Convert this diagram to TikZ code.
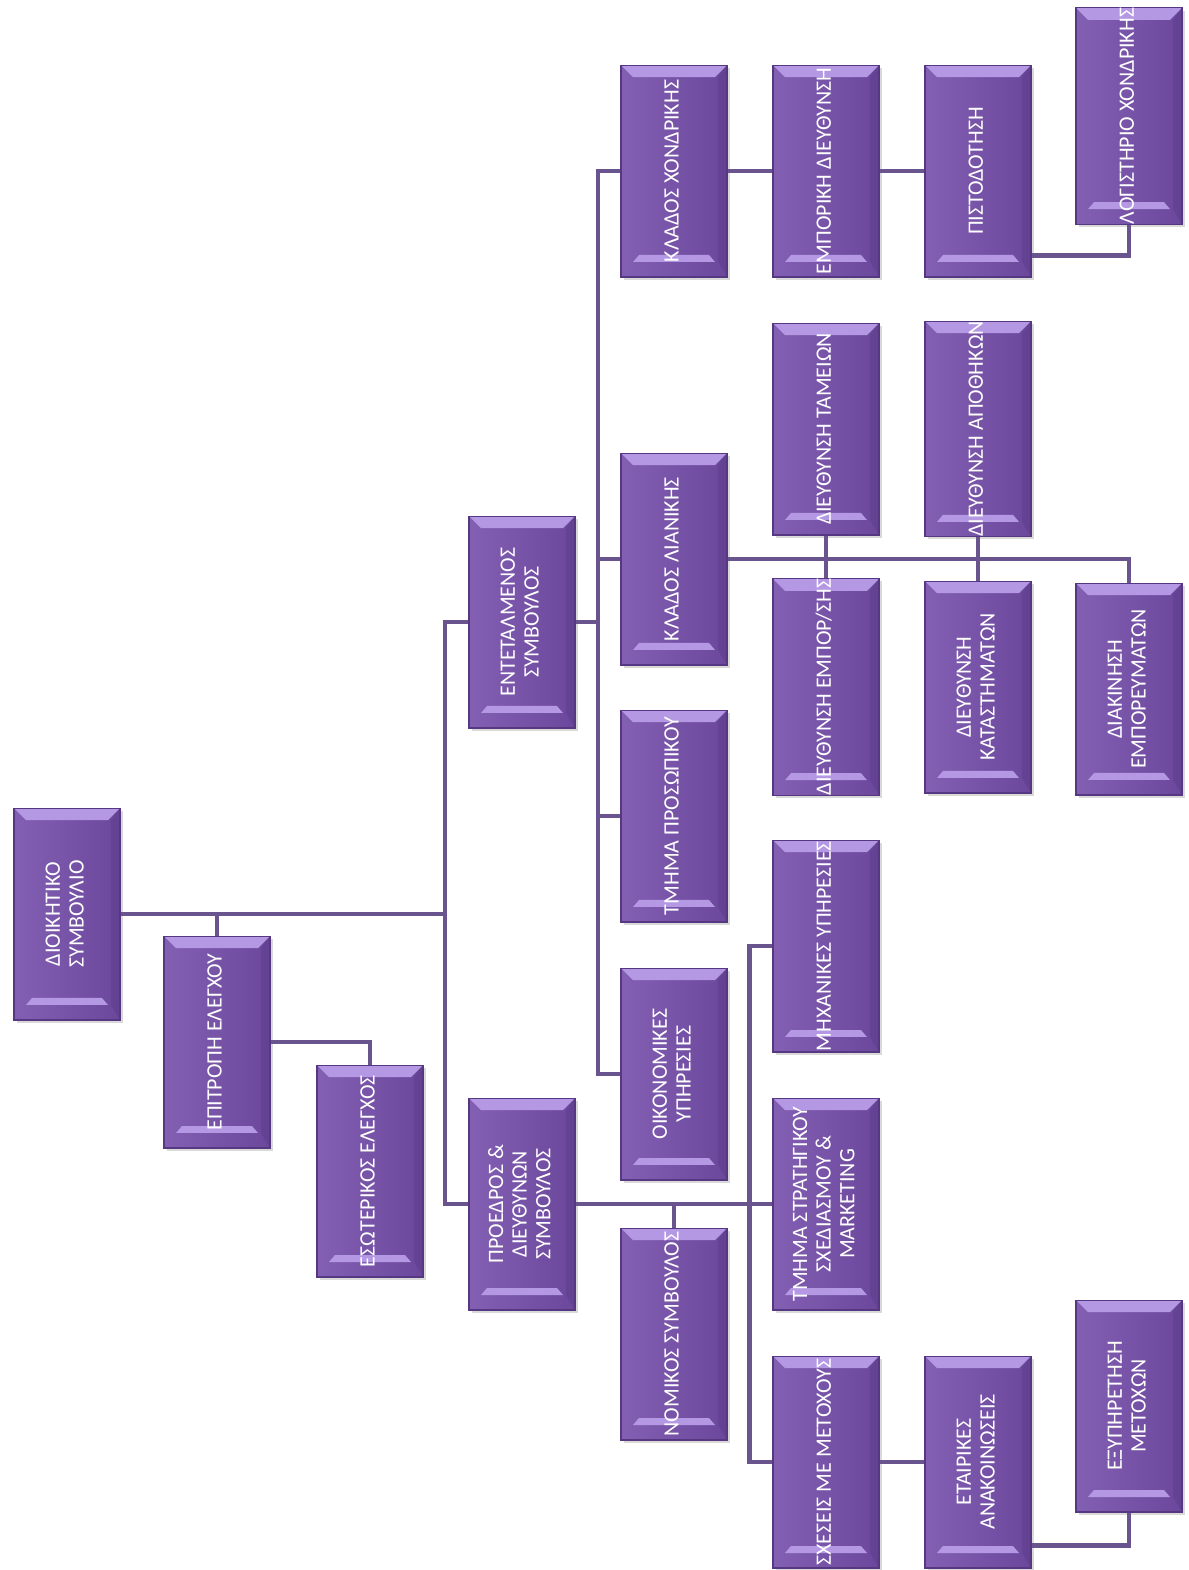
\documentclass[tikz,border=0pt]{standalone}
\usepackage{fontspec}
\setmainfont{Carlito}
\usepackage{graphicx,xcolor}
\definecolor{orgfill}{RGB}{117,78,170}
\definecolor{orgedge}{RGB}{85,55,130}
\definecolor{orglight}{RGB}{180,152,228}
\definecolor{orgline}{RGB}{106,84,142}
\usetikzlibrary{calc,shadows}
\newcommand{\vlabel}[1]{\rotatebox{90}{\begin{tabular}{@{}c@{}}#1\end{tabular}}}

\begin{document}
\begin{tikzpicture}[x=0.02cm,y=-0.02cm,
  orgbox/.style={draw=orgedge,line width=0.6pt,left color=orgfill!90!white,right color=orgfill!92!black,
    minimum width=2.12cm,minimum height=4.24cm,inner sep=0pt,text=white,
    font=\fontsize{12.5}{13.5}\selectfont,
    drop shadow={opacity=0.3,shadow xshift=1.5pt,shadow yshift=-1.5pt},
    path picture={
      \fill[orglight] (path picture bounding box.north west) -- (path picture bounding box.north east)
        -- ([shift={(-0.24cm,-0.24cm)}]path picture bounding box.north east)
        -- ([shift={(0.24cm,-0.24cm)}]path picture bounding box.north west) -- cycle;
      \fill[orglight] ([shift={(0.36cm,0.44cm)}]path picture bounding box.south west)
        -- ([shift={(-0.36cm,0.44cm)}]path picture bounding box.south east)
        -- ([shift={(-0.24cm,0.3cm)}]path picture bounding box.south east)
        -- ([shift={(0.24cm,0.3cm)}]path picture bounding box.south west) -- cycle;
      \fill[orgedge,opacity=0.35] (path picture bounding box.north east) -- (path picture bounding box.south east)
        -- ([shift={(-0.18cm,0.3cm)}]path picture bounding box.south east)
        -- ([shift={(-0.18cm,-0.24cm)}]path picture bounding box.north east) -- cycle;
    }},
  link/.style={orgline,line width=2.5pt}]
  \useasboundingbox (0,0) rectangle (1188,1570);

  % Board and audit
  \node[orgbox] (dioik) at (67,914) {\vlabel{ΔΙΟΙΚΗΤΙΚΟ\\ΣΥΜΒΟΥΛΙΟ}};
  \node[orgbox] (epitr) at (217,1042) {\vlabel{ΕΠΙΤΡΟΠΗ ΕΛΕΓΧΟΥ}};
  \node[orgbox] (esot) at (370,1171) {\vlabel{ΕΣΩΤΕΡΙΚΟΣ ΕΛΕΓΧΟΣ}};
  % Management
  \node[orgbox] (entet) at (522,622) {\vlabel{ΕΝΤΕΤΑΛΜΕΝΟΣ\\ΣΥΜΒΟΥΛΟΣ}};
  \node[orgbox] (proed) at (522,1204) {\vlabel{ΠΡΟΕΔΡΟΣ \&\\ΔΙΕΥΘΥΝΩΝ\\ΣΥΜΒΟΥΛΟΣ}};
  % Branches and departments
  \node[orgbox] (xondr) at (674,171) {\vlabel{ΚΛΑΔΟΣ ΧΟΝΔΡΙΚΗΣ}};
  \node[orgbox] (lian) at (674,559) {\vlabel{ΚΛΑΔΟΣ ΛΙΑΝΙΚΗΣ}};
  \node[orgbox] (prosop) at (674,816) {\vlabel{ΤΜΗΜΑ ΠΡΟΣΩΠΙΚΟΥ}};
  \node[orgbox] (oikon) at (674,1074) {\vlabel{ΟΙΚΟΝΟΜΙΚΕΣ\\ΥΠΗΡΕΣΙΕΣ}};
  \node[orgbox] (nomik) at (674,1334) {\vlabel{ΝΟΜΙΚΟΣ ΣΥΜΒΟΥΛΟΣ}};
  \node[orgbox] (empdir) at (826,171) {\vlabel{ΕΜΠΟΡΙΚΗ ΔΙΕΥΘΥΝΣΗ}};
  \node[orgbox] (tamei) at (826,429) {\vlabel{ΔΙΕΥΘΥΝΣΗ ΤΑΜΕΙΩΝ}};
  \node[orgbox] (empor) at (826,687) {\vlabel{ΔΙΕΥΘΥΝΣΗ ΕΜΠΟΡ/ΣΗΣ}};
  \node[orgbox] (mixan) at (826,946) {\vlabel{ΜΗΧΑΝΙΚΕΣ ΥΠΗΡΕΣΙΕΣ}};
  \node[orgbox] (strat) at (826,1204) {\vlabel{ΤΜΗΜΑ ΣΤΡΑΤΗΓΙΚΟΥ\\ΣΧΕΔΙΑΣΜΟΥ \&\\MARKETING}};
  \node[orgbox] (sxes) at (826,1462) {\vlabel{ΣΧΕΣΕΙΣ ΜΕ ΜΕΤΟΧΟΥΣ}};
  \node[orgbox] (pisto) at (978,171) {\vlabel{ΠΙΣΤΟΔΟΤΗΣΗ}};
  \node[orgbox] (apoth) at (978,429) {\vlabel{ΔΙΕΥΘΥΝΣΗ ΑΠΟΘΗΚΩΝ}};
  \node[orgbox] (katast) at (978,687) {\vlabel{ΔΙΕΥΘΥΝΣΗ\\ΚΑΤΑΣΤΗΜΑΤΩΝ}};
  \node[orgbox] (etair) at (978,1462) {\vlabel{ΕΤΑΙΡΙΚΕΣ\\ΑΝΑΚΟΙΝΩΣΕΙΣ}};
  \node[orgbox] (logist) at (1129,116) {\vlabel{ΛΟΓΙΣΤΗΡΙΟ ΧΟΝΔΡΙΚΗΣ}};
  \node[orgbox] (diakin) at (1129,689) {\vlabel{ΔΙΑΚΙΝΗΣΗ\\ΕΜΠΟΡΕΥΜΑΤΩΝ}};
  \node[orgbox] (exyp) at (1129,1406) {\vlabel{ΕΞΥΠΗΡΕΤΗΣΗ\\ΜΕΤΟΧΩΝ}};

  % Connectors
  \coordinate (trunkA) at (445,914);
  \coordinate (trunkB) at (598,622);
  \draw[link] (dioik.east) -- (trunkA);
  \draw[link] (entet.west) -| (trunkA) |- (proed.west);
  \draw[link] (epitr.north) -- (epitr.north |- dioik.east);
  \draw[link] (epitr.east) -| (esot.north);
  \draw[link] (entet.east) -- (trunkB);
  \draw[link] (xondr.west) -| (trunkB) |- (oikon.west);
  \draw[link] (lian.west) -| (trunkB);
  \draw[link] (prosop.west) -| (trunkB);
  \draw[link] (xondr.east) -- (empdir.west);
  \draw[link] (empdir.east) -- (pisto.west);
  \draw[link] ([yshift=0.44cm]pisto.south east) -| (logist.south);
  \draw[link] (lian.east) -| (diakin.north);
  \draw[link] (tamei.south) -- (empor.north);
  \draw[link] (apoth.south) -- (katast.north);
  \draw[link] (proed.east) -- (strat.west);
  \draw[link] (nomik.north) -- (nomik.north |- proed.east);
  \draw[link] (mixan.west) -- ++(-23,0) |- (sxes.west);
  \draw[link] (sxes.east) -- (etair.west);
  \draw[link] ([yshift=0.46cm]etair.south east) -| (exyp.south);
\end{tikzpicture}
\end{document}
